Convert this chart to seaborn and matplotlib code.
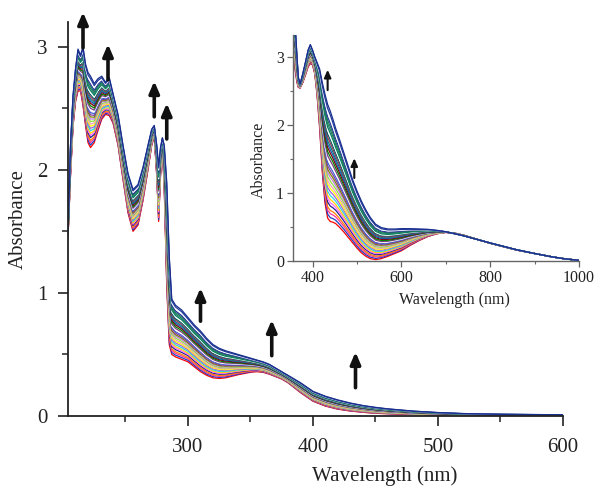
import numpy as np
import pandas as pd
import matplotlib
matplotlib.use("Agg")
import matplotlib.pyplot as plt
from matplotlib.ticker import MultipleLocator
import seaborn as sns

# ---- UV region (main panel) ----
uv_wavelength = [204, 206, 208, 210, 212, 214, 216, 218, 220, 222, 225, 228, 231, 234,
                 237, 240, 244, 248, 252, 256, 260, 264, 268, 271, 273, 275, 276.5, 278,
                 279.5, 281, 283, 285, 287, 290, 295, 300, 305, 310, 315, 320, 325, 330,
                 340, 350, 355, 360, 365, 370, 375, 380, 385, 390, 400, 410, 420, 430,
                 440, 450, 460, 480, 500, 520, 550, 600]
uv_start = [1.45, 1.95, 2.35, 2.55, 2.64, 2.64, 2.52, 2.36, 2.22, 2.18, 2.22, 2.32, 2.41, 2.45,
            2.44, 2.38, 2.20, 1.92, 1.65, 1.50, 1.55, 1.75, 2.00, 2.20, 2.27, 1.95, 1.58, 1.95,
            2.17, 1.85, 1.05, 0.58, 0.50, 0.48, 0.46, 0.44, 0.40, 0.36, 0.33, 0.31, 0.305, 0.31,
            0.335, 0.355, 0.36, 0.355, 0.34, 0.32, 0.30, 0.27, 0.23, 0.19, 0.12, 0.08, 0.055, 0.04,
            0.03, 0.022, 0.018, 0.012, 0.008, 0.006, 0.005, 0.004]
uv_end = [1.50, 2.20, 2.60, 2.82, 2.98, 2.93, 3.00, 2.86, 2.79, 2.76, 2.70, 2.74, 2.76, 2.71,
          2.75, 2.62, 2.45, 2.20, 1.97, 1.84, 1.88, 2.02, 2.20, 2.33, 2.36, 2.20, 2.03, 2.18,
          2.26, 2.20, 1.90, 1.30, 0.95, 0.90, 0.86, 0.80, 0.74, 0.69, 0.63, 0.58, 0.55, 0.53,
          0.50, 0.47, 0.455, 0.44, 0.42, 0.39, 0.36, 0.33, 0.30, 0.27, 0.20, 0.16, 0.13, 0.105,
          0.085, 0.07, 0.058, 0.04, 0.028, 0.02, 0.014, 0.01]

# ---- visible / NIR region (inset) ----
vis_wavelength = [356, 359, 362, 365, 368, 372, 378, 385, 390, 395, 400, 405, 410, 416, 422,
                  428, 434, 440, 446, 452, 460, 470, 480, 490, 500, 510, 520, 530, 542, 555,
                  570, 585, 600, 620, 640, 660, 680, 700, 720, 740, 760, 780, 800, 830, 860,
                  900, 940, 970, 1000]
vis_start = [3.25, 2.90, 2.75, 2.62, 2.55, 2.54, 2.62, 2.75, 2.85, 2.90, 2.88, 2.75, 2.45, 1.95,
             1.30, 0.85, 0.63, 0.58, 0.57, 0.55, 0.50, 0.43, 0.35, 0.27, 0.19, 0.12, 0.07, 0.035,
             0.02, 0.035, 0.07, 0.11, 0.15, 0.23, 0.30, 0.36, 0.40, 0.42, 0.41, 0.38, 0.34, 0.30,
             0.26, 0.21, 0.16, 0.11, 0.06, 0.03, 0.01]
vis_end = [3.50, 3.45, 3.35, 3.00, 2.70, 2.60, 2.75, 2.95, 3.10, 3.18, 3.10, 3.00, 2.92, 2.82,
           2.62, 2.45, 2.30, 2.20, 2.08, 1.95, 1.80, 1.60, 1.40, 1.20, 1.03, 0.88, 0.75, 0.64,
           0.54, 0.49, 0.47, 0.47, 0.475, 0.475, 0.47, 0.465, 0.45, 0.43, 0.40, 0.37, 0.335, 0.30,
           0.265, 0.215, 0.165, 0.11, 0.06, 0.03, 0.01]

# extent of conversion at each titration step
step_fraction = [0.0, 0.035, 0.07, 0.10, 0.14, 0.17, 0.20, 0.235, 0.27, 0.30, 0.33, 0.365,
                 0.40, 0.43, 0.46, 0.49, 0.52, 0.55, 0.585, 0.62, 0.65, 0.68, 0.71, 0.74,
                 0.77, 0.80, 0.83, 0.86, 0.89, 0.93, 0.965, 1.0]

# trace colours, first addition to last
trace_colors = ['#FF0000', '#2040C0', '#FF3399', '#FF8000', '#202090', '#FF66FF', '#FFD000',
                '#30D0E0', '#A060E0', '#FFFF00', '#F0A0C0', '#90E040', '#C080E0', '#808000',
                '#8040A0', '#4060D0', '#FFFFFF', '#804080', '#008000', '#800000', '#2050B0',
                '#008080', '#A03060', '#006060', '#FFFFFF', '#008060', '#208060', '#1A7A5A',
                '#2A3A9A', '#FFFFFF', '#203C9C', '#1A2E8E']

# arrows marking the direction of change: (wavelength, tail, head)
uv_arrows = [(216, 2.99, 3.28), (236, 2.73, 3.02), (273, 2.43, 2.72), (283, 2.25, 2.54),
             (310, 0.77, 1.04), (367, 0.49, 0.78), (434, 0.23, 0.52)]
vis_arrows = [(434, 2.51, 2.81), (494, 1.22, 1.51)]


def titration_frame(wl, start, end):
    wl = np.asarray(wl, float)
    a0 = np.asarray(start, float)
    a1 = np.asarray(end, float)
    parts = []
    for i, f in enumerate(step_fraction):
        parts.append(pd.DataFrame({"Wavelength": wl,
                                   "Absorbance": a0 + f * (a1 - a0),
                                   "step": i}))
    return pd.concat(parts, ignore_index=True)


uv_df = titration_frame(uv_wavelength, uv_start, uv_end)
vis_df = titration_frame(vis_wavelength, vis_start, vis_end)

sns.set_style("ticks")
plt.rcParams["font.family"] = ["Liberation Serif", "DejaVu Serif"]

fig = plt.figure(figsize=(5.94, 4.87), dpi=100)
ax = fig.add_axes([68 / 594, 1 - 416 / 487, (563 - 68) / 594, (416 - 22) / 487])

sns.lineplot(data=uv_df, x="Wavelength", y="Absorbance", hue="step",
             palette=trace_colors, estimator=None, legend=False,
             linewidth=0.9, ax=ax)

ax.set_xlim(204, 600)
ax.set_ylim(0, 3.2)
ax.xaxis.set_major_locator(MultipleLocator(100))
ax.xaxis.set_minor_locator(MultipleLocator(50))
ax.yaxis.set_major_locator(MultipleLocator(1))
ax.yaxis.set_minor_locator(MultipleLocator(0.5))
for s in ("top", "right"):
    ax.spines[s].set_visible(False)
for s in ("left", "bottom"):
    ax.spines[s].set_linewidth(1.3)
    ax.spines[s].set_color("#222222")
ax.tick_params(which="major", direction="out", length=7, width=1.2, labelsize=15,
               colors="#222222")
ax.tick_params(which="minor", direction="out", length=4.5, width=1.1, colors="#222222")
ax.tick_params(axis="x", which="major", pad=9)
ax.tick_params(axis="y", which="major", pad=8)
ax.set_xlabel("Wavelength (nm)", fontsize=15, color="#222222")
ax.set_ylabel("Absorbance", fontsize=15, color="#222222")
ax.xaxis.set_label_coords(0.64, -0.128)
ax.yaxis.set_label_coords(-0.081, 0.5)

for x, y0, y1 in uv_arrows:
    ax.annotate("", xy=(x, y1), xytext=(x, y0), annotation_clip=False,
                arrowprops=dict(arrowstyle="-|>,head_length=0.7,head_width=0.3",
                                color="#111111", lw=2.6, shrinkA=0, shrinkB=0))

# inset with the visible / near-IR band
ins = fig.add_axes([293 / 594, 1 - 261 / 487, (579 - 293) / 594, (261 - 35) / 487])
ins.patch.set_alpha(0)
sns.lineplot(data=vis_df, x="Wavelength", y="Absorbance", hue="step",
             palette=trace_colors, estimator=None, legend=False,
             linewidth=0.9, ax=ins)
ins.set_xlim(356, 1000)
ins.set_ylim(0, 3.32)
ins.xaxis.set_major_locator(MultipleLocator(200))
ins.xaxis.set_minor_locator(MultipleLocator(100))
ins.yaxis.set_major_locator(MultipleLocator(1))
ins.yaxis.set_minor_locator(MultipleLocator(0.5))
for s in ("top", "right"):
    ins.spines[s].set_visible(False)
for s in ("left", "bottom"):
    ins.spines[s].set_linewidth(1.0)
    ins.spines[s].set_color("#666666")
ins.tick_params(which="major", direction="out", length=4, width=0.9, labelsize=11.5,
                colors="#666666", labelcolor="#222222", pad=2.5)
ins.tick_params(which="minor", direction="out", length=2.5, width=0.8, colors="#666666")
ins.set_xlabel("Wavelength (nm)", fontsize=11.5, color="#222222")
ins.set_ylabel("Absorbance", fontsize=11.5, color="#222222")
ins.xaxis.set_label_coords(0.563, -0.135)
ins.yaxis.set_label_coords(-0.091, 0.447)

for x, y0, y1 in vis_arrows:
    ins.annotate("", xy=(x, y1), xytext=(x, y0), annotation_clip=False,
                 arrowprops=dict(arrowstyle="-|>,head_length=0.45,head_width=0.2",
                                 color="#111111", lw=1.5, shrinkA=0, shrinkB=0))

fig.savefig("out.png", dpi=100)
